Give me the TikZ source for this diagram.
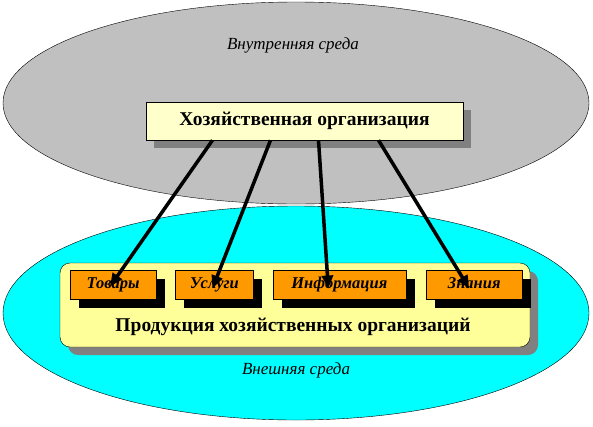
\documentclass[tikz,border=0pt]{standalone}
\usepackage{fontspec}
\setmainfont{Liberation Serif}[ItalicFont={Liberation Serif Italic},BoldItalicFont={Liberation Serif Bold Italic}]
\usetikzlibrary{arrows.meta,calc,positioning,shadows}
\definecolor{innergray}{HTML}{C0C0C0}
\definecolor{outercyan}{HTML}{00FFFF}
\definecolor{orgfill}{HTML}{FFFFCC}
\definecolor{prodfill}{HTML}{FFFF99}
\definecolor{itemfill}{HTML}{FF9900}
\definecolor{shadowgray}{HTML}{808080}

\begin{document}
\begin{tikzpicture}[x=1pt,y=-1pt,>={Triangle[length=13pt,width=11pt]},
  graybox/.style={drop shadow={shadow xshift=8pt,shadow yshift=-8pt,fill=shadowgray,opacity=1}},
  itembox/.style={draw,fill=itemfill,minimum height=29pt,inner sep=0pt,text height=11pt,text depth=3.5pt,
    font=\fontsize{16.5}{18}\selectfont\bfseries\itshape,
    drop shadow={shadow xshift=9pt,shadow yshift=-9pt,fill=black,opacity=1}},
  envlabel/.style={font=\fontsize{17}{19}\selectfont\itshape},
  bigarrow/.style={->,line width=3.5pt}]
\useasboundingbox (0,0) rectangle (593,426);
% the two environments
\draw[fill=innergray] (296,103) ellipse [x radius=293,y radius=101];
\draw[fill=outercyan] (296,313) ellipse [x radius=293,y radius=107];
\node[envlabel] (inner) at (293,45) {Внутренняя среда};
\node[envlabel] (outer) at (296,370) {Внешняя среда};
% organisation
\node[draw,graybox,fill=orgfill,minimum width=317pt,minimum height=38pt,
  font=\fontsize{19.5}{22}\selectfont\bfseries] (org) at (304.5,121) {Хозяйственная организация};
% products
\node[draw,graybox,fill=prodfill,rounded corners=10pt,minimum width=470pt,minimum height=84pt] (prod) at (295,305) {};
\node[font=\fontsize{19.5}{22}\selectfont\bfseries] (prodtext) at (293,327) {Продукция хозяйственных организаций};
\node[itembox,minimum width=86pt] (goods) at (113,284.5) {Товары};
\node[itembox,minimum width=78pt,right=19pt of goods] (services) {Услуги};
\node[itembox,minimum width=133pt,right=19pt of services] (info) {Информация};
\node[itembox,minimum width=96pt,right=20pt of info] (knowledge) {Знания};
% arrows
\draw[bigarrow] ([xshift=-92pt]org.south) -- ([xshift=-3pt,yshift=-2pt]goods.center);
\draw[bigarrow] ([xshift=-34pt]org.south) -- ([xshift=-2pt,yshift=-4pt]services.center);
\draw[bigarrow] ([xshift=14pt]org.south) -- ([xshift=-11pt,yshift=-4pt]info.center);
\draw[bigarrow] ([xshift=74pt]org.south) -- ([xshift=-5pt,yshift=-4pt]knowledge.center);
\end{tikzpicture}
\end{document}
